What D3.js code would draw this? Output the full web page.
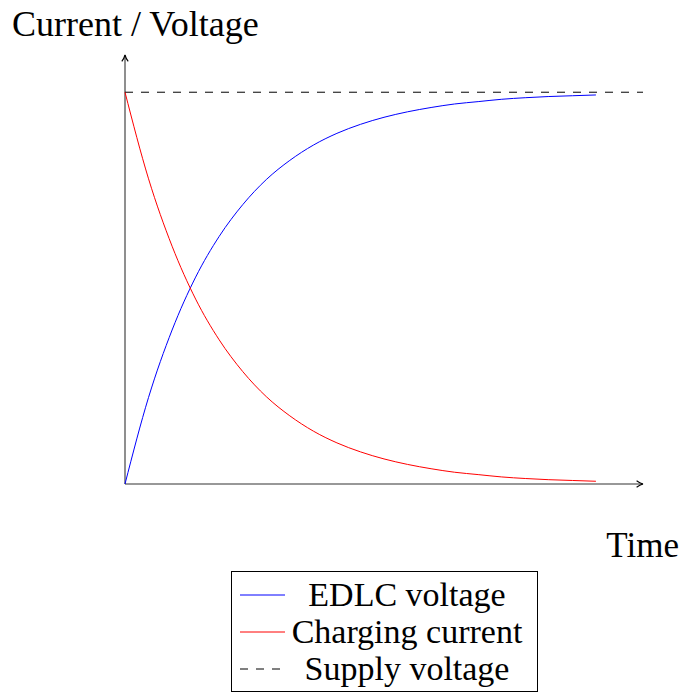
<!DOCTYPE html>
<html>
<head>
<meta charset="utf-8">
<script src="https://cdn.jsdelivr.net/npm/d3@7"></script>
<style>
  body { margin: 0; background: #fff; }
  text { font-family: "Liberation Serif", serif; fill: #000; }
</style>
</head>
<body>
<div id="chart"></div>
<script>
// values (normalised units)
var times = [0, 0.25, 0.5, 0.75, 1, 1.25, 1.5, 1.75, 2, 2.25, 2.5, 2.75, 3, 3.25, 3.5, 3.75, 4, 4.25, 4.5, 4.75, 5];
var edlcVoltage = [0, 0.221, 0.393, 0.528, 0.632, 0.713, 0.777, 0.826, 0.865, 0.895, 0.918, 0.936, 0.950, 0.961, 0.970, 0.976, 0.982, 0.986, 0.989, 0.991, 0.993];
var chargingCurrent = [1, 0.779, 0.607, 0.472, 0.368, 0.287, 0.223, 0.174, 0.135, 0.105, 0.082, 0.064, 0.050, 0.039, 0.030, 0.024, 0.018, 0.014, 0.011, 0.009, 0.007];
var supplyVoltage = 1;
var legendLabels = ["EDLC voltage", "Charging current", "Supply voltage"];

var W = 683, H = 693;
var svg = d3.select("#chart").append("svg")
  .attr("width", W).attr("height", H);

var x = d3.scaleLinear().domain([0, 5.5]).range([125, 643]);
var y = d3.scaleLinear().domain([0, 1.095]).range([484, 55]);

var defs = svg.append("defs");
defs.append("marker")
  .attr("id", "arrow")
  .attr("viewBox", "0 0 10 10")
  .attr("refX", 9).attr("refY", 5)
  .attr("markerWidth", 8).attr("markerHeight", 8)
  .attr("markerUnits", "userSpaceOnUse")
  .attr("orient", "auto")
  .append("path")
  .attr("d", "M1,1 Q5,4 9,5 Q5,6 1,9")
  .attr("fill", "none")
  .attr("stroke", "#000")
  .attr("stroke-width", 1.4);

// axes
svg.append("line")
  .attr("x1", x(0)).attr("y1", y(0))
  .attr("x2", x(5.5)).attr("y2", y(0))
  .attr("stroke", "#333").attr("stroke-width", 1.1)
  .attr("marker-end", "url(#arrow)");
svg.append("line")
  .attr("x1", x(0)).attr("y1", y(0))
  .attr("x2", x(0)).attr("y2", y(1.095))
  .attr("stroke", "#333").attr("stroke-width", 1.1)
  .attr("marker-end", "url(#arrow)");

// supply voltage
svg.append("line")
  .attr("x1", x(0)).attr("y1", y(supplyVoltage))
  .attr("x2", x(5.5)).attr("y2", y(supplyVoltage))
  .attr("stroke", "#000").attr("stroke-width", 1)
  .attr("stroke-dasharray", "8,8");

var line = d3.line()
  .x(function(d, i) { return x(times[i]); })
  .y(function(d) { return y(d); })
  .curve(d3.curveMonotoneX);

svg.append("path")
  .datum(edlcVoltage)
  .attr("d", line)
  .attr("fill", "none")
  .attr("stroke", "#0000ff")
  .attr("stroke-width", 1);

svg.append("path")
  .datum(chargingCurrent)
  .attr("d", line)
  .attr("fill", "none")
  .attr("stroke", "#ff0000")
  .attr("stroke-width", 1);

// axis labels
svg.append("text")
  .attr("x", 12).attr("y", 36)
  .attr("font-family", "Liberation Serif")
  .style("font-size", "36px")
  .text("Current / Voltage");
svg.append("text")
  .attr("x", 679).attr("y", 557)
  .attr("text-anchor", "end")
  .attr("font-family", "Liberation Serif")
  .style("font-size", "35px")
  .text("Time");

// legend
var lg = svg.append("g");
lg.append("rect")
  .attr("x", 231.5).attr("y", 571.5)
  .attr("width", 306).attr("height", 120)
  .attr("fill", "#fff")
  .attr("stroke", "#000").attr("stroke-width", 1);

var legendStyles = [
  { color: "#0000ff", dash: null },
  { color: "#ff0000", dash: null },
  { color: "#000", dash: "8,8" }
];
legendLabels.forEach(function(lbl, i) {
  var cy = 595 + i * 37;
  lg.append("line")
    .attr("x1", 240).attr("x2", 285)
    .attr("y1", cy).attr("y2", cy)
    .attr("stroke", legendStyles[i].color)
    .attr("stroke-width", 1)
    .attr("stroke-dasharray", legendStyles[i].dash);
  lg.append("text")
    .attr("x", 407).attr("y", cy + 11)
    .attr("text-anchor", "middle")
    .attr("font-family", "Liberation Serif")
    .style("font-size", "34px")
    .text(lbl);
});
</script>
</body>
</html>
